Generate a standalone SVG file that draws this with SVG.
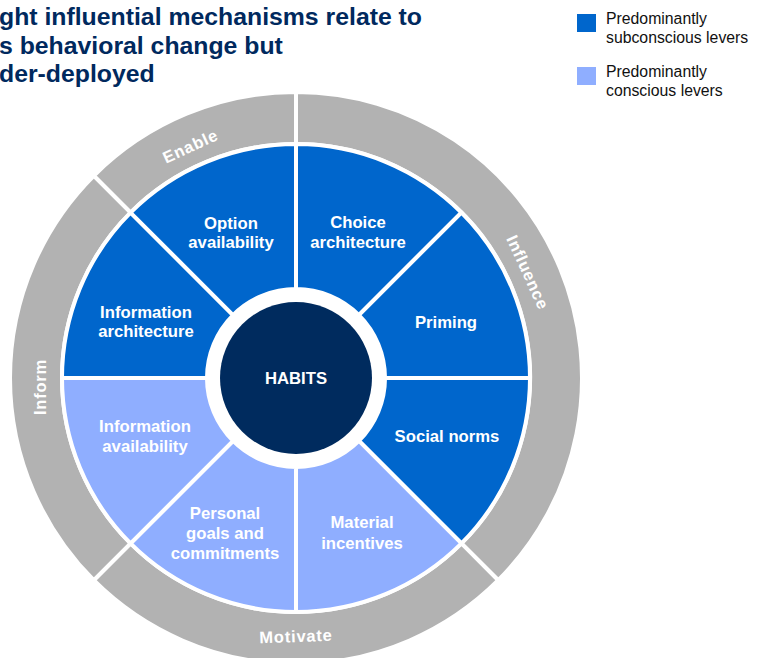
<svg xmlns="http://www.w3.org/2000/svg" width="761" height="658" viewBox="0 0 761 658">
<style>
.title{font-family:"Liberation Sans",Arial,sans-serif;font-weight:bold;font-size:24.8px;fill:#00295E}
.leg{font-family:"Liberation Sans",Arial,sans-serif;font-size:15.8px;fill:#111}
.ring{fill:#B2B2B2;stroke:#fff;stroke-width:4;stroke-linejoin:miter}
.dark{fill:#0066CC;stroke:#fff;stroke-width:4;stroke-linejoin:miter}
.light{fill:#8FAEFF;stroke:#fff;stroke-width:4;stroke-linejoin:miter}
.lbl{font-family:"Liberation Sans",Arial,sans-serif;font-weight:bold;font-size:16.7px;fill:#fff;text-anchor:middle}
.rlbl{font-family:"Liberation Sans",Arial,sans-serif;font-weight:bold;font-size:16.5px;fill:#fff;text-anchor:middle;letter-spacing:0.8px}
</style>
<rect width="761" height="658" fill="#fff"/>
<g id="title">
<text class="title" x="-1" y="25">ght influential mechanisms relate to</text>
<text class="title" x="-1" y="53.5">s behavioral change but</text>
<text class="title" x="-1" y="82">der-deployed</text>
</g>
<g id="legend">
<rect x="577" y="14" width="19" height="18" fill="#0066CC"/>
<text class="leg" x="606" y="24">Predominantly</text>
<text class="leg" x="606" y="43">subconscious levers</text>
<rect x="577" y="67" width="19" height="18" fill="#8FAEFF"/>
<text class="leg" x="606" y="77">Predominantly</text>
<text class="leg" x="606" y="96">conscious levers</text>
</g>
<g id="ring-enable">
<path class="ring" d="M93.77,175.77 A286,286 0 0 1 296,92 L296,144 A234,234 0 0 0 130.54,212.54 Z"/>
<text class="rlbl" x="296" y="129" transform="rotate(-24.5 296 378)">Enable</text>
</g>
<g id="ring-influence">
<path class="ring" d="M296,92 A286,286 0 0 1 498.23,580.23 L461.46,543.46 A234,234 0 0 0 296,144 Z"/>
<text class="rlbl" x="296" y="129" transform="rotate(65.5 296 378)">Influence</text>
</g>
<g id="ring-motivate">
<path class="ring" d="M498.23,580.23 A286,286 0 0 1 93.77,580.23 L130.54,543.46 A234,234 0 0 0 461.46,543.46 Z"/>
<text class="rlbl" x="296" y="642" transform="rotate(-2 296 636)">Motivate</text>
</g>
<g id="ring-inform">
<path class="ring" d="M93.77,580.23 A286,286 0 0 1 93.77,175.77 L130.54,212.54 A234,234 0 0 0 130.54,543.46 Z"/>
<text class="rlbl" x="46" y="387" transform="rotate(-90 46 387)" dy="0" style="dominant-baseline:auto">Inform</text>
</g>
<g id="choice-architecture">
<path class="dark" d="M296,144 A234,234 0 0 1 461.46,212.54 L358.93,315.07 A89,89 0 0 0 296,289 Z"/>
<text class="lbl" x="358" y="228">Choice</text>
<text class="lbl" x="358" y="248">architecture</text>
</g>
<g id="priming">
<path class="dark" d="M461.46,212.54 A234,234 0 0 1 530,378 L385,378 A89,89 0 0 0 358.93,315.07 Z"/>
<text class="lbl" x="446" y="328">Priming</text>
</g>
<g id="social-norms">
<path class="dark" d="M530,378 A234,234 0 0 1 461.46,543.46 L358.93,440.93 A89,89 0 0 0 385,378 Z"/>
<text class="lbl" x="447" y="442">Social norms</text>
</g>
<g id="material-incentives">
<path class="light" d="M461.46,543.46 A234,234 0 0 1 296,612 L296,467 A89,89 0 0 0 358.93,440.93 Z"/>
<text class="lbl" x="362" y="528">Material</text>
<text class="lbl" x="362" y="549">incentives</text>
</g>
<g id="personal-goals">
<path class="light" d="M296,612 A234,234 0 0 1 130.54,543.46 L233.07,440.93 A89,89 0 0 0 296,467 Z"/>
<text class="lbl" x="225" y="519">Personal</text>
<text class="lbl" x="225" y="539">goals and</text>
<text class="lbl" x="225" y="559">commitments</text>
</g>
<g id="information-availability">
<path class="light" d="M130.54,543.46 A234,234 0 0 1 62,378 L207,378 A89,89 0 0 0 233.07,440.93 Z"/>
<text class="lbl" x="145" y="432">Information</text>
<text class="lbl" x="145" y="452">availability</text>
</g>
<g id="information-architecture">
<path class="dark" d="M62,378 A234,234 0 0 1 130.54,212.54 L233.07,315.07 A89,89 0 0 0 207,378 Z"/>
<text class="lbl" x="146" y="318">Information</text>
<text class="lbl" x="146" y="337">architecture</text>
</g>
<g id="option-availability">
<path class="dark" d="M130.54,212.54 A234,234 0 0 1 296,144 L296,289 A89,89 0 0 0 233.07,315.07 Z"/>
<text class="lbl" x="231" y="229">Option</text>
<text class="lbl" x="231" y="248">availability</text>
</g>
<g id="habits">
<circle cx="296" cy="378" r="76" fill="#002B5E"/>
<text class="lbl" x="296" y="384">HABITS</text>
</g>
<g id="connectors"></g>
</svg>
